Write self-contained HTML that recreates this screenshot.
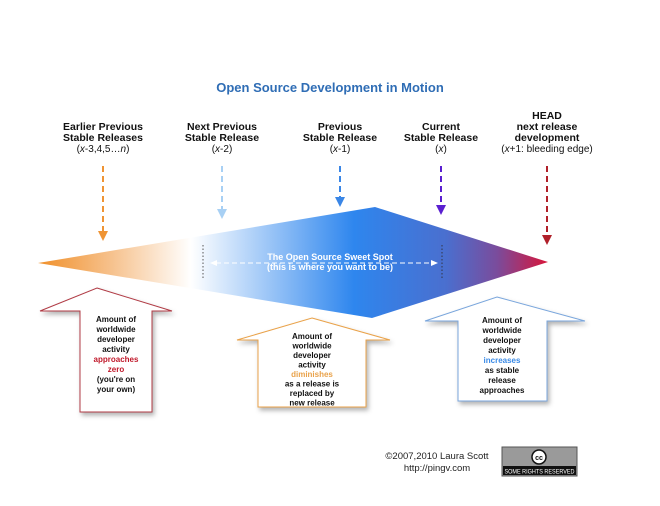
<!DOCTYPE html>
<html><head><meta charset="utf-8"><style>
html,body{margin:0;padding:0;background:#fff;}
svg{display:block;font-family:"Liberation Sans","DejaVu Sans",sans-serif;}
.h{font-size:10.5px;font-weight:bold;fill:#111;text-anchor:middle;}
.s{font-size:10px;fill:#111;text-anchor:middle;}
.b{font-size:8px;font-weight:bold;fill:#111;text-anchor:middle;}
</style></head><body>
<svg width="660" height="506" viewBox="0 0 660 506">
<defs>
<linearGradient id="g" x1="38" y1="0" x2="548" y2="0" gradientUnits="userSpaceOnUse">
<stop offset="0" stop-color="#f0902a"/>
<stop offset="0.14" stop-color="#f6c08a"/>
<stop offset="0.3" stop-color="#ffffff"/>
<stop offset="0.62" stop-color="#2e86ee"/>
<stop offset="0.8" stop-color="#4a6fcf"/>
<stop offset="0.9" stop-color="#7a4c9c"/>
<stop offset="1" stop-color="#d8153a"/>
</linearGradient>
<filter id="sh" x="-20%" y="-20%" width="140%" height="140%"><feDropShadow dx="2" dy="3" stdDeviation="2.5" flood-color="#000" flood-opacity="0.3"/></filter>
</defs>
<text x="330" y="92" text-anchor="middle" font-size="13" font-weight="bold" fill="#2f6db5">Open Source Development in Motion</text>

<text class="h" x="103" y="130">Earlier Previous</text>
<text class="h" x="103" y="141">Stable Releases</text>
<text class="s" x="103" y="152">(<tspan font-style="italic">x</tspan>-3,4,5…<tspan font-style="italic">n</tspan>)</text>
<text class="h" x="222" y="130">Next Previous</text>
<text class="h" x="222" y="141">Stable Release</text>
<text class="s" x="222" y="152">(<tspan font-style="italic">x</tspan>-2)</text>
<text class="h" x="340" y="130">Previous</text>
<text class="h" x="340" y="141">Stable Release</text>
<text class="s" x="340" y="152">(<tspan font-style="italic">x</tspan>-1)</text>
<text class="h" x="441" y="130">Current</text>
<text class="h" x="441" y="141">Stable Release</text>
<text class="s" x="441" y="152">(<tspan font-style="italic">x</tspan>)</text>
<text class="h" x="547" y="119">HEAD</text>
<text class="h" x="547" y="130">next release</text>
<text class="h" x="547" y="141">development</text>
<text class="s" x="547" y="152">(<tspan font-style="italic">x</tspan>+1: bleeding edge)</text>

<g stroke-width="2" stroke-dasharray="6,4" fill="none">
<line x1="103" y1="166" x2="103" y2="232" stroke="#ef9434"/>
<line x1="222" y1="166" x2="222" y2="210" stroke="#a8d0f4"/>
<line x1="340" y1="166" x2="340" y2="198" stroke="#3a86e6"/>
<line x1="441" y1="166" x2="441" y2="206" stroke="#5a1fd0"/>
<line x1="547" y1="166" x2="547" y2="236" stroke="#b0202a"/>
</g>
<polygon points="98,231 108,231 103,241" fill="#ef9434"/>
<polygon points="217,209 227,209 222,219" fill="#a8d0f4"/>
<polygon points="335,197 345,197 340,207" fill="#3a86e6"/>
<polygon points="436,205 446,205 441,215" fill="#5a1fd0"/>
<polygon points="542,235 552,235 547,245" fill="#b0202a"/>

<polygon points="38,263 375,207 548,262 372,318" fill="url(#g)"/>
<line x1="203" y1="245" x2="203" y2="280" stroke="#555" stroke-dasharray="1.5,2" stroke-width="1"/>
<line x1="442" y1="245" x2="442" y2="280" stroke="#334" stroke-dasharray="1.5,2" stroke-width="1"/>
<line x1="216" y1="263" x2="432" y2="263" stroke="#fff" stroke-dasharray="5,3" stroke-width="1"/>
<polygon points="210,263 217,260 217,266" fill="#fff"/>
<polygon points="438,263 431,260 431,266" fill="#fff"/>
<text x="330" y="260" text-anchor="middle" font-size="9" font-weight="bold" fill="#fff">The Open Source Sweet Spot</text>
<text x="330" y="270" text-anchor="middle" font-size="9" font-weight="bold" fill="#fff">(this is where you want to be)</text>

<polygon points="97,288 172,311 152,311 152,412 80,412 80,311 40,311" fill="#fff" stroke="#b03a44" stroke-width="1" filter="url(#sh)"/>
<text class="b" x="116" y="322">Amount of</text>
<text class="b" x="116" y="332">worldwide</text>
<text class="b" x="116" y="342">developer</text>
<text class="b" x="116" y="352">activity</text>
<text class="b" x="116" y="362" style="fill:#c0182a">approaches</text>
<text class="b" x="116" y="372" style="fill:#c0182a">zero</text>
<text class="b" x="116" y="382">(you're on</text>
<text class="b" x="116" y="392">your own)</text>
<polygon points="312,318 390,340 366,340 366,407 258,407 258,340 237,340" fill="#fff" stroke="#e9a24a" stroke-width="1" filter="url(#sh)"/>
<text class="b" x="312" y="339">Amount of</text>
<text class="b" x="312" y="348.5">worldwide</text>
<text class="b" x="312" y="358">developer</text>
<text class="b" x="312" y="367.5">activity</text>
<text class="b" x="312" y="377" style="fill:#e9a24a">diminishes</text>
<text class="b" x="312" y="386.5">as a release is</text>
<text class="b" x="312" y="396">replaced by</text>
<text class="b" x="312" y="405.5">new release</text>
<polygon points="497,297 585,321 547,321 547,401 458,401 458,321 425,321" fill="#fff" stroke="#7aa6dc" stroke-width="1" filter="url(#sh)"/>
<text class="b" x="502" y="323">Amount of</text>
<text class="b" x="502" y="333">worldwide</text>
<text class="b" x="502" y="343">developer</text>
<text class="b" x="502" y="353">activity</text>
<text class="b" x="502" y="363" style="fill:#3a8ae6">increases</text>
<text class="b" x="502" y="373">as stable</text>
<text class="b" x="502" y="383">release</text>
<text class="b" x="502" y="393">approaches</text>

<text x="437" y="459" text-anchor="middle" font-size="9.5" fill="#222">©2007,2010 Laura Scott</text>
<text x="437" y="471" text-anchor="middle" font-size="9.5" fill="#222">http://pingv.com</text>
<rect x="502" y="447" width="75" height="29" fill="#9a9a9a" stroke="#555"/>
<rect x="503" y="466" width="73" height="9" fill="#111"/>
<circle cx="539" cy="457" r="7" fill="#fff" stroke="#111" stroke-width="1.5"/>
<text x="539" y="460" text-anchor="middle" font-size="7" font-weight="bold" fill="#111">cc</text>
<text x="539.5" y="473.5" text-anchor="middle" font-size="6.5" fill="#fff" textLength="70" lengthAdjust="spacingAndGlyphs">SOME RIGHTS RESERVED</text>
</svg>
</body></html>
